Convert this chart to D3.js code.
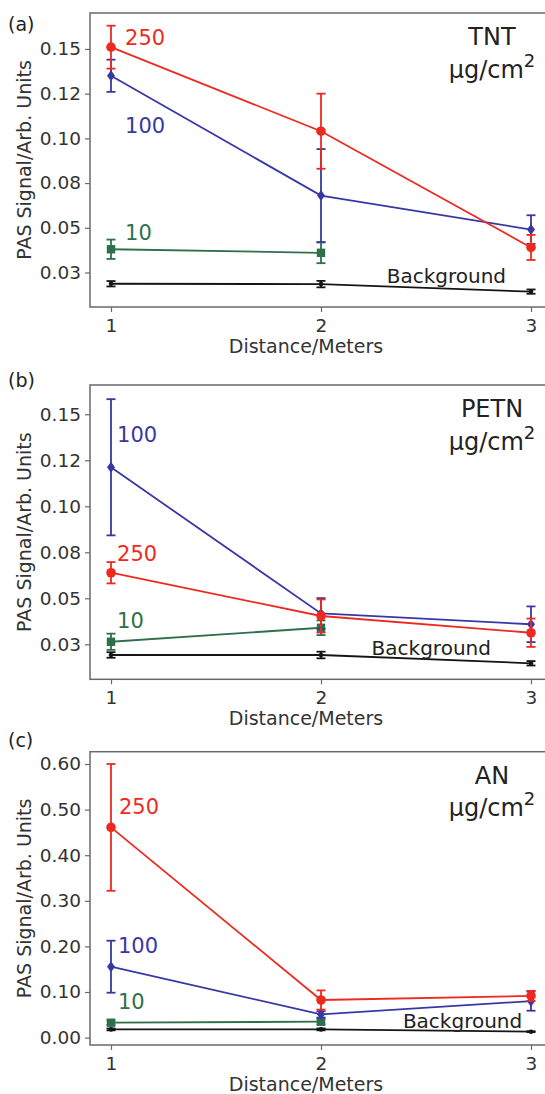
<!DOCTYPE html>
<html>
<head>
<meta charset="utf-8">
<script src="https://cdn.jsdelivr.net/npm/d3@7"></script>
<style>
  body { margin: 0; background: #fff; }
  text { font-family: "DejaVu Sans", sans-serif; }
</style>
</head>
<body>
<svg width="545" height="1094"></svg>
<script>
// distances (x values)
const distances = [1, 2, 3];

// TNT
const tntTicks = [0.025, 0.05, 0.075, 0.1, 0.125, 0.15];
const tntTickLabels = ['0.03', '0.05', '0.08', '0.10', '0.12', '0.15'];
const tnt250 = [0.151, 0.104, 0.039];
const tnt250Err = [0.012, 0.021, 0.007];
const tnt100 = [0.135, 0.068, 0.049];
const tnt100Err = [0.009, 0.026, 0.008];
const tnt10 = [0.038, 0.036];
const tnt10Err = [0.0054, 0.0058];
const tntBg = [0.0187, 0.0185, 0.0143];
const tntBgErr = [0.0015, 0.0018, 0.0012];

// PETN
const petnTicks = [0.025, 0.05, 0.075, 0.1, 0.125, 0.15];
const petnTickLabels = ['0.03', '0.05', '0.08', '0.10', '0.12', '0.15'];
const petn250 = [0.0639, 0.0404, 0.0313];
const petn250Err = [0.0058, 0.009, 0.0077];
const petn100 = [0.1212, 0.0418, 0.0359];
const petn100Err = [0.037, 0.0083, 0.0097];
const petn10 = [0.0264, 0.034];
const petn10Err = [0.0044, 0.004];
const petnBg = [0.0192, 0.0192, 0.0147];
const petnBgErr = [0.0015, 0.0018, 0.0012];

// AN
const anTicks = [0, 0.1, 0.2, 0.3, 0.4, 0.5, 0.6];
const anTickLabels = ['0.00', '0.10', '0.20', '0.30', '0.40', '0.50', '0.60'];
const an250 = [0.461, 0.0825, 0.0915];
const an250Err = [0.139, 0.021, 0.011];
const an100 = [0.1555, 0.051, 0.08];
const an100Err = [0.057, 0.007, 0.021];
const an10 = [0.0327, 0.035];
const an10Err = [0.005, 0.006];
const anBg = [0.018, 0.018, 0.013];
const anBgErr = [0.002, 0.002, 0.001];

const RED = '#ee2a20', BLUE = '#3838a4', GREEN = '#2d7049', BLACK = '#151515';

const panels = [
  {
    letter: '(a)', name: 'TNT', top: 13, bottom: 307, letterY: 31,
    domain: [0.0057, 0.1701], ticks: tntTicks, tickLabels: tntTickLabels,
    series: [
      { label: 'Background', v: tntBg, e: tntBgErr, color: BLACK, marker: 'dot', at: [2.313, 0.0191] },
      { label: '10', v: tnt10, e: tnt10Err, color: GREEN, marker: 'square', at: [1.067, 0.0432] },
      { label: '100', v: tnt100, e: tnt100Err, color: BLUE, marker: 'diamond', at: [1.067, 0.103] },
      { label: '250', v: tnt250, e: tnt250Err, color: RED, marker: 'circle', at: [1.067, 0.1522] }
    ]
  },
  {
    letter: '(b)', name: 'PETN', top: 385, bottom: 679.3, letterY: 387,
    domain: [0.006, 0.1659], ticks: petnTicks, tickLabels: petnTickLabels,
    series: [
      { label: 'Background', v: petnBg, e: petnBgErr, color: BLACK, marker: 'dot', at: [2.241, 0.0192] },
      { label: '10', v: petn10, e: petn10Err, color: GREEN, marker: 'square', at: [1.029, 0.034] },
      { label: '100', v: petn100, e: petn100Err, color: BLUE, marker: 'diamond', at: [1.029, 0.1351] },
      { label: '250', v: petn250, e: petn250Err, color: RED, marker: 'circle', at: [1.029, 0.0703] }
    ]
  },
  {
    letter: '(c)', name: 'AN', top: 751.7, bottom: 1045, letterY: 747,
    domain: [-0.0162, 0.627], ticks: anTicks, tickLabels: anTickLabels,
    series: [
      { label: 'Background', v: anBg, e: anBgErr, color: BLACK, marker: 'dot', at: [2.39, 0.0204] },
      { label: '10', v: an10, e: an10Err, color: GREEN, marker: 'square', at: [1.033, 0.0627] },
      { label: '100', v: an100, e: an100Err, color: BLUE, marker: 'diamond', at: [1.033, 0.1855] },
      { label: '250', v: an250, e: an250Err, color: RED, marker: 'circle', at: [1.038, 0.4897] }
    ]
  }
];

const svg = d3.select('svg');
const x = d3.scaleLinear().domain([0.9, 3.1]).range([90, 552]);

panels.forEach(drawPanel);

function drawPanel(p) {
  const y = d3.scaleLinear().domain(p.domain).range([p.bottom, p.top]);
  const g = svg.append('g');

  g.append('rect')
    .attr('x', 90)
    .attr('y', p.top)
    .attr('width', 470)
    .attr('height', p.bottom - p.top)
    .attr('fill', 'none')
    .attr('stroke', '#6a6a6a')
    .attr('stroke-width', 1.5);

  const yAxis = d3.axisLeft(y)
    .tickValues(p.ticks)
    .tickFormat((_, i) => p.tickLabels[i])
    .tickSize(5)
    .tickPadding(4);
  g.append('g')
    .attr('transform', 'translate(90,0)')
    .call(yAxis)
    .call(a => a.select('.domain').remove());

  const xAxis = d3.axisBottom(x)
    .tickValues(distances)
    .tickFormat(d3.format('d'))
    .tickSize(5)
    .tickPadding(7);
  g.append('g')
    .attr('transform', `translate(0,${p.bottom})`)
    .call(xAxis)
    .call(a => a.select('.domain').remove());

  g.selectAll('.tick line').attr('stroke', '#6a6a6a').attr('stroke-width', 1.2);
  g.selectAll('.tick text')
    .attr('fill', '#333')
    .style('font-size', '18.5px')
    .style('font-family', '"DejaVu Sans", sans-serif');

  g.append('text')
    .attr('x', 306)
    .attr('y', p.bottom + 46)
    .attr('text-anchor', 'middle')
    .attr('fill', '#333')
    .style('font-size', '19px')
    .text('Distance/Meters');

  g.append('text')
    .attr('transform', `translate(31,${(p.top + p.bottom) / 2}) rotate(-90)`)
    .attr('text-anchor', 'middle')
    .attr('fill', '#333')
    .style('font-size', '19px')
    .text('PAS Signal/Arb. Units');

  g.append('text')
    .attr('x', 8)
    .attr('y', p.letterY)
    .attr('fill', '#222')
    .style('font-size', '19px')
    .text(p.letter);

  // material title + unit
  g.append('text')
    .attr('x', 492)
    .attr('y', p.top + 32)
    .attr('text-anchor', 'middle')
    .attr('fill', '#222')
    .style('font-size', '24px')
    .text(p.name);
  const unit = g.append('text')
    .attr('x', 492)
    .attr('y', p.top + 64.5)
    .attr('text-anchor', 'middle')
    .attr('fill', '#222')
    .style('font-size', '24px');
  unit.append('tspan').text('μg/cm');
  unit.append('tspan').attr('dy', -11).style('font-size', '18px').text('2');

  const line = d3.line().x((_, i) => x(distances[i])).y(d => y(d));

  p.series.forEach(s => {
    const sg = g.append('g');
    sg.append('path')
      .datum(s.v)
      .attr('d', line)
      .attr('fill', 'none')
      .attr('stroke', s.color)
      .attr('stroke-width', 1.8);

    const pts = s.v.map((v, i) => ({ x: distances[i], v, e: s.e[i] }));
    const bars = sg.selectAll('g.err').data(pts).enter().append('g').attr('class', 'err');
    bars.append('line')
      .attr('x1', d => x(d.x)).attr('x2', d => x(d.x))
      .attr('y1', d => y(d.v - d.e)).attr('y2', d => y(d.v + d.e))
      .attr('stroke', s.color).attr('stroke-width', 1.8);
    [-1, 1].forEach(sign => {
      bars.append('line')
        .attr('x1', d => x(d.x) - 4.5).attr('x2', d => x(d.x) + 4.5)
        .attr('y1', d => y(d.v + sign * d.e)).attr('y2', d => y(d.v + sign * d.e))
        .attr('stroke', s.color).attr('stroke-width', 1.8);
    });

    const m = sg.selectAll('.mk').data(pts).enter();
    if (s.marker === 'circle') {
      m.append('circle').attr('cx', d => x(d.x)).attr('cy', d => y(d.v)).attr('r', 4.8).attr('fill', s.color);
    } else if (s.marker === 'dot') {
      m.append('circle').attr('cx', d => x(d.x)).attr('cy', d => y(d.v)).attr('r', 2.3).attr('fill', s.color);
    } else if (s.marker === 'square') {
      m.append('rect').attr('x', d => x(d.x) - 4.2).attr('y', d => y(d.v) - 4.2)
        .attr('width', 8.4).attr('height', 8.4).attr('fill', s.color);
    } else {
      m.append('path')
        .attr('transform', d => `translate(${x(d.x)},${y(d.v)})`)
        .attr('d', 'M0,-5.5L4,0L0,5.5L-4,0Z')
        .attr('fill', s.color);
    }

    g.append('text')
      .attr('x', x(s.at[0]))
      .attr('y', y(s.at[1]))
      .attr('fill', s.color === BLACK ? '#222' : s.color)
      .style('font-size', s.label === 'Background' ? '20px' : '21px')
      .text(s.label);
  });
}
</script>
</body>
</html>
